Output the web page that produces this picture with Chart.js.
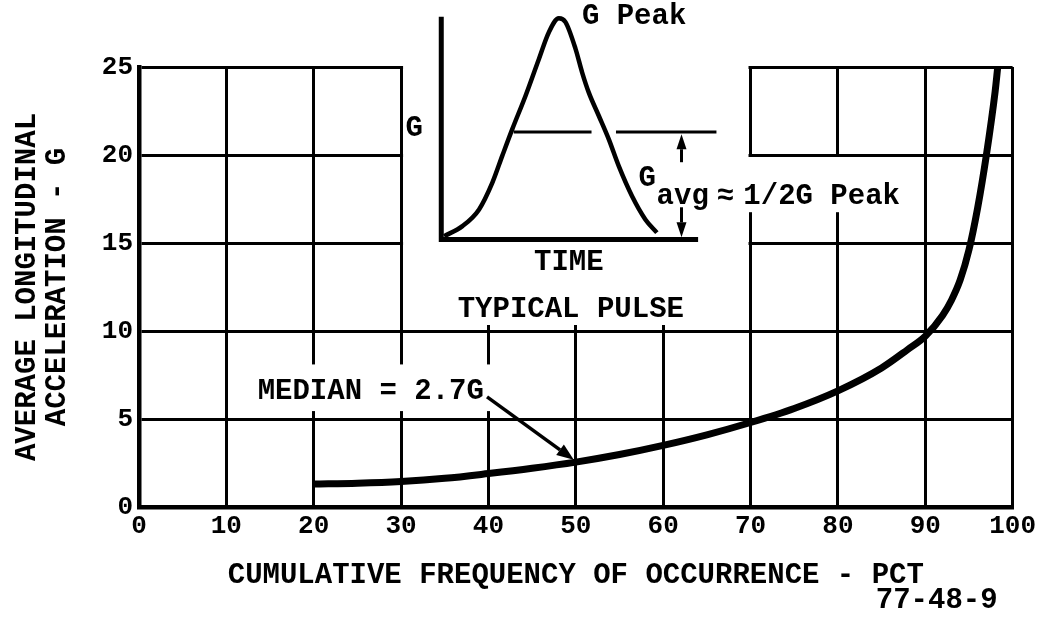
<!DOCTYPE html>
<html lang="en">
<head>
    <meta charset="UTF-8">
    <title>Average longitudinal acceleration</title>
    <script src="https://cdn.jsdelivr.net/npm/chart.js"></script>
    <style>
        body {
            margin: 0;
            background: #fff;
        }
        #wrap {
            width: 1040px;
            height: 617px;
        }
    </style>
</head>
<body>
    <div id="wrap"><canvas id="chart" width="1040" height="617"></canvas></div>

    <script>
        // main curve: cumulative frequency (pct) vs average G
        const freq  = [20, 25, 30, 35, 40, 45, 50, 55, 60, 65, 70, 75, 80, 85, 88, 90, 92, 93, 94, 95, 96, 97, 98, 98.3];
        const accel = [1.3, 1.35, 1.45, 1.63, 1.9, 2.2, 2.55, 2.98, 3.5, 4.1, 4.8, 5.6, 6.6, 7.9, 8.95, 9.7, 10.9, 11.75, 12.9, 14.6, 17.0, 20.0, 23.6, 25];

        // axis ticks
        const xTicks = [0, 10, 20, 30, 40, 50, 60, 70, 80, 90, 100];
        const yTicks = [0, 5, 10, 15, 20, 25];

        // "typical pulse" sketch, in chart units
        const pulseX = [34.93, 37.02, 38.93, 40.45, 41.58, 42.73, 44.25, 45.78, 46.92, 48.06, 48.82, 49.97, 50.72, 51.48, 52.63, 53.77, 54.91, 56.43, 57.96, 59.28];
        const pulseY = [15.39, 15.96, 16.91, 18.43, 19.95, 21.47, 23.37, 25.46, 26.98, 27.77, 27.55, 26.03, 24.70, 23.56, 22.23, 20.90, 19.38, 17.67, 16.34, 15.59];
        const pulseAxisX = [34.6, 34.6, 64.0];
        const pulseAxisY = [27.85, 15.2, 15.2];
        const avgLineX = [42.9, 51.8, 53.2, 54.6, 66.1];
        const avgLineY = [21.3, 21.3, null, 21.3, 21.3];

        const pts = (xs, ys) => xs.map((v, i) => ({x: v, y: ys[i]}));

        const FONT = '"Liberation Mono", monospace';
        Chart.defaults.font.family = FONT;
        Chart.defaults.font.weight = 'bold';
        Chart.defaults.color = '#000';

        function arrow(ctx, x0, y0, x1, y1, head, half, lw) {
            const a = Math.atan2(y1 - y0, x1 - x0);
            const bx = x1 - head * Math.cos(a), by = y1 - head * Math.sin(a);
            ctx.lineWidth = lw;
            ctx.beginPath();
            ctx.moveTo(x0, y0);
            ctx.lineTo(bx, by);
            ctx.stroke();
            ctx.beginPath();
            ctx.moveTo(x1, y1);
            ctx.lineTo(bx + half * Math.sin(a), by - half * Math.cos(a));
            ctx.lineTo(bx - half * Math.sin(a), by + half * Math.cos(a));
            ctx.closePath();
            ctx.fill();
        }

        // white-out behind the inset and labels, then arrows and notes on top
        const sketch = {
            id: 'sketch',
            beforeDatasetsDraw(chart) {
                const {ctx, scales: {x, y}} = chart;
                ctx.save();
                ctx.fillStyle = '#fff';
                const boxes = [
                    [x.getPixelForValue(30) + 2, 0, x.getPixelForValue(70) - 2, y.getPixelForValue(10) - 6],
                    [x.getPixelForValue(69.5), y.getPixelForValue(20) + 2, x.getPixelForValue(87.5), y.getPixelForValue(16.75)],
                    [x.getPixelForValue(12.7), y.getPixelForValue(8.1), x.getPixelForValue(41.2), y.getPixelForValue(5.45)]
                ];
                boxes.forEach(([l, t, r, b]) => ctx.fillRect(l, t, r - l, b - t));
                ctx.restore();
            },
            afterDatasetsDraw(chart) {
                const {ctx, scales: {x, y}} = chart;
                const px = v => x.getPixelForValue(v);
                const py = v => y.getPixelForValue(v);
                ctx.save();
                ctx.fillStyle = '#000';
                ctx.strokeStyle = '#000';
                ctx.lineCap = 'butt';

                arrow(ctx, px(39.84), py(6.26), px(49.77), py(2.68), 17, 6.5, 3.5);
                arrow(ctx, px(62.1), py(19.59), px(62.1), py(21.18), 15, 5, 3);
                arrow(ctx, px(62.1), py(17.03), px(62.1), py(15.32), 15, 5, 3);

                const notes = [
                    ['G Peak', 50.7, 27.85, 'left', 'middle'],
                    ['G', 31.5, 21.47, 'center', 'middle'],
                    ['TIME', 49.2, 13.9, 'center', 'middle'],
                    ['TYPICAL PULSE', 49.43, 11.22, 'center', 'middle'],
                    ['G', 57.19, 18.22, 'left', 'alphabetic'],
                    ['avg', 59.25, 17.2, 'left', 'alphabetic'],
                    ['\u2248', 67.12, 17.2, 'center', 'alphabetic'],
                    ['1/2G Peak', 69.18, 17.2, 'left', 'alphabetic'],
                    ['MEDIAN = 2.7G', 13.58, 6.55, 'left', 'middle']
                ];
                ctx.font = 'bold 29px ' + FONT;
                notes.forEach(([t, vx, vy, al, bl]) => {
                    ctx.textAlign = al;
                    ctx.textBaseline = bl;
                    ctx.fillText(t, px(vx), py(vy));
                });

                ctx.textAlign = 'right';
                ctx.textBaseline = 'middle';
                ctx.fillText('77-48-9', px(100) - 15, 601);
                ctx.restore();
            }
        };

        const ctx = document.getElementById('chart').getContext('2d');
        new Chart(ctx, {
            type: 'line',
            data: {
                datasets: [
                    {
                        data: pts(freq, accel),
                        borderColor: '#000',
                        borderWidth: 7,
                        pointRadius: 0,
                        cubicInterpolationMode: 'monotone'
                    },
                    {
                        data: pts(pulseX, pulseY),
                        borderColor: '#000',
                        borderWidth: 4.5,
                        pointRadius: 0,
                        cubicInterpolationMode: 'monotone',
                        clip: false
                    },
                    {
                        data: pts(pulseAxisX, pulseAxisY),
                        borderColor: '#000',
                        borderWidth: 5,
                        pointRadius: 0,
                        tension: 0,
                        clip: false
                    },
                    {
                        data: pts(avgLineX, avgLineY),
                        borderColor: '#000',
                        borderWidth: 3,
                        pointRadius: 0,
                        tension: 0,
                        spanGaps: false,
                        clip: false
                    }
                ]
            },
            options: {
                responsive: false,
                animation: false,
                layout: {
                    padding: {top: 67, right: 25, left: 0, bottom: 0}
                },
                plugins: {
                    legend: {display: false},
                    tooltip: {enabled: false}
                },
                scales: {
                    x: {
                        type: 'linear',
                        min: 0,
                        max: 100,
                        afterBuildTicks: s => { s.ticks = xTicks.map(v => ({value: v})); },
                        afterFit: s => { s.height = 110; },
                        grid: {color: '#000', lineWidth: 3, drawTicks: false},
                        border: {color: '#000', width: 4.5},
                        ticks: {font: {size: 26}, padding: 4, maxRotation: 0},
                        title: {
                            display: true,
                            text: 'CUMULATIVE FREQUENCY OF OCCURRENCE - PCT',
                            font: {size: 29},
                            padding: {top: 0, bottom: 24}
                        }
                    },
                    y: {
                        min: 0,
                        max: 25,
                        afterBuildTicks: s => { s.ticks = yTicks.map(v => ({value: v})); },
                        afterFit: s => { s.width = 139; },
                        grid: {color: '#000', lineWidth: 3, drawTicks: false},
                        border: {color: '#000', width: 4.5},
                        ticks: {font: {size: 26}, padding: 6},
                        title: {
                            display: true,
                            text: ['AVERAGE LONGITUDINAL', 'ACCELERATION - G'],
                            font: {size: 29, lineHeight: 1.05},
                            padding: {top: 12, bottom: 0}
                        }
                    }
                }
            },
            plugins: [sketch]
        });
    </script>
</body>
</html>
